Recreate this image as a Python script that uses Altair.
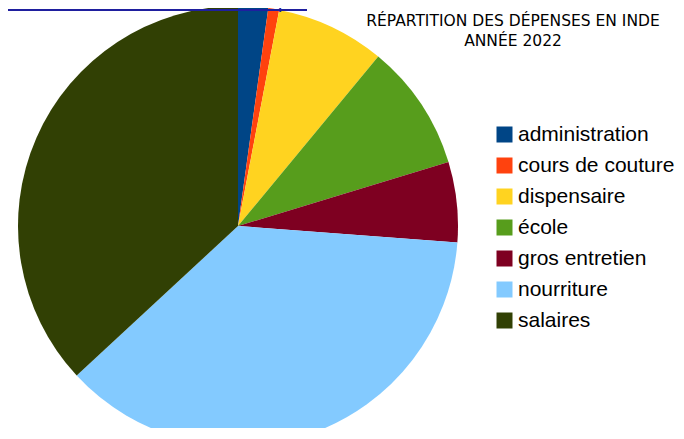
import altair as alt
import pandas as pd

categories = ["administration", "cours de couture", "dispensaire", "école",
              "gros entretien", "nourriture", "salaires"]
values = [2.2, 0.8, 8.0, 9.3, 5.9, 36.9, 36.9]
colors = ["#004586", "#ff420e", "#ffd320", "#579d1c", "#7e0021", "#83caff", "#314004"]
title_lines = ["RÉPARTITION DES DÉPENSES EN INDE", "ANNÉE 2022"]
link_text = "de résultat Bilan 2022.pdf"

df = pd.DataFrame({"cat": categories, "val": values, "idx": list(range(len(categories)))})

pie = alt.Chart(df).mark_arc(radius=220, strokeWidth=0).encode(
    theta=alt.Theta("val:Q", stack=True),
    order=alt.Order("idx:Q"),
    color=alt.Color(
        "cat:N",
        scale=alt.Scale(domain=categories, range=colors),
        sort=categories,
        legend=alt.Legend(
            title=None, orient="none", legendX=486, legendY=116,
            symbolType="square", symbolSize=256, symbolStrokeWidth=0,
            labelFontSize=21, labelFont="Liberation Sans", labelColor="#000000",
            rowPadding=9, labelOffset=3, labelLimit=300,
        ),
    ),
    x=alt.value(230),
    y=alt.value(218),
)

tdf = pd.DataFrame({"t": title_lines, "yy": [13, 33]})
title = alt.Chart(tdf).mark_text(
    font="DejaVu Sans", fontSize=15.5, color="#000000", align="center", baseline="middle"
).encode(text="t:N", x=alt.value(505), y=alt.Y("yy:Q", scale=None, axis=None))

ldf = pd.DataFrame({"t": [link_text]})
link = alt.Chart(ldf).mark_text(
    font="Liberation Sans", fontSize=21, color="#1f1f9f", align="right", baseline="alphabetic"
).encode(text="t:N", x=alt.value(299), y=alt.value(0))
underline = alt.Chart(ldf).mark_rule(color="#1f1f9f", strokeWidth=2).encode(
    x=alt.value(-8), x2=alt.value(299), y=alt.value(2)
)

chart = alt.layer(pie, title, link, underline).properties(
    width=668, height=420, padding=0, autosize=alt.AutoSizeParams(type="none")
).configure_view(stroke=None)

chart.save("out.html", embed_options={"renderer": "svg", "actions": False})
